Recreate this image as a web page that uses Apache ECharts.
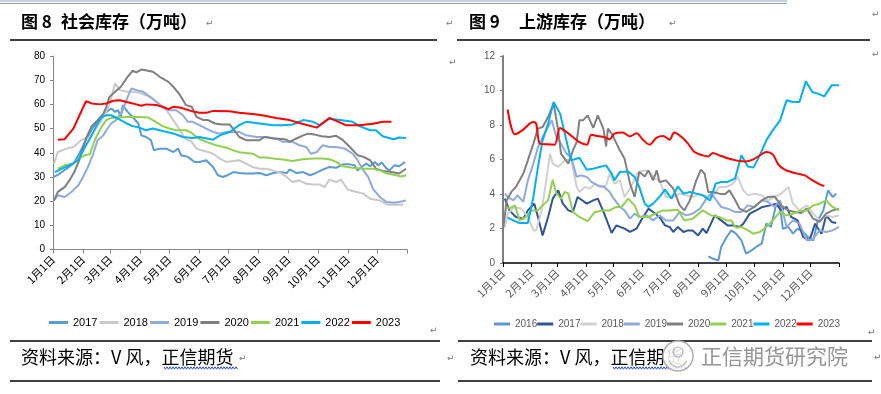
<!DOCTYPE html>
<html><head><meta charset="utf-8">
<script src="https://cdn.jsdelivr.net/npm/echarts@6/dist/echarts.min.js"></script>
<style>
html,body{margin:0;padding:0;background:#fff;}
.c{position:absolute;left:0;top:0;width:881px;height:394px;}
</style>
</head><body>
<div id="a" class="c"></div><div id="b" class="c"></div>
<script>
// ---- axis categories ----
const monthDays = [0,31,59,90,120,151,181,212,243,273,304,334];
const tickDays = [0,31,59,90,120,151,181,212,243,273,304,334,365];
const monthLabels = ['1月1日','2月1日','3月1日','4月1日','5月1日','6月1日','7月1日','8月1日','9月1日','10月1日','11月1日','12月1日'];

// ---- Figure 8: 社会库存 (万吨), [day of year, value] ----
const yearsL = ['2017','2018','2019','2020','2021','2022','2023'];
const L2017 = [[1,30],[7,31.4],[14,33.4],[21,35.5],[27,39.6],[34,45.2],[41,50.4],[48,54.1],[55,56.9],[60,58.3],[64,56.9],[67,57.6],[70,54.8],[72,59.7],[77,56.9],[82,54.8],[88,52.1],[91,47.2],[96,46.5],[101,45.2],[104,41],[110,41.7],[117,41.7],[124,40.3],[129,41.7],[132,39],[139,38.3],[146,36.2],[151,36.2],[158,36.9],[165,34.1],[170,30.7],[175,30],[180,30.7],[186,32],[192,31.6],[199,31.4],[206,31.4],[213,31.6],[220,30.7],[227,31.6],[234,32],[241,31.6],[244,33.1],[251,31.6],[258,32],[265,30.7],[272,31.8],[278,33],[285,34.1],[292,33.8],[299,35.2],[306,35.2],[311,34.8],[314,32.7],[318,34.1],[323,35.5],[327,34.4],[332,36.2],[335,34.8],[339,35.9],[344,33.4],[347,32.7],[352,34.8],[357,34.4],[363,36.2]];
const L2018 = [[1,35.5],[5,40.3],[14,41.7],[21,42.4],[29,45.2],[38,46.5],[45,50.4],[52,54.8],[58,59.7],[64,68.6],[69,65.9],[76,65.2],[82,65.2],[89,64.8],[96,63.8],[103,62.4],[110,59.7],[117,57.6],[124,53.5],[131,49.3],[136,45.9],[143,44.5],[148,41.7],[153,41],[160,40.3],[165,39.6],[172,37.6],[179,36.2],[186,36.6],[192,36.9],[199,35.5],[206,34.1],[213,33.4],[220,33.4],[227,32.7],[234,31.8],[241,30],[247,27.9],[254,28.6],[261,27.2],[268,26.9],[275,26.9],[280,25.8],[285,28.9],[292,27.9],[297,28.9],[304,24.7],[313,23.8],[320,23.1],[327,21],[337,20.3],[345,18.5],[354,18.6],[361,18.5]];
const L2019 = [[1,20.3],[5,22.4],[12,21.7],[19,23.8],[26,26.5],[31,30],[36,34.1],[41,39],[46,45.2],[52,47.2],[55,49.3],[60,52.1],[65,53.5],[72,57.6],[77,63.1],[81,66.6],[86,65.9],[93,65.2],[100,63.1],[107,61],[113,59],[120,57.6],[127,57.6],[134,55.5],[139,52.8],[144,52.8],[151,51.4],[158,50],[165,48.6],[172,47.9],[179,48.6],[186,48.6],[192,48.6],[199,47.2],[210,46.5],[220,46.5],[230,45.9],[237,44.5],[247,44.5],[254,43.1],[261,42.4],[266,39.6],[272,40.3],[278,43.1],[285,42.4],[292,42.4],[301,41.7],[309,39.6],[314,36.9],[320,32.7],[325,30],[330,25.1],[337,21.7],[344,19.6],[351,19.3],[357,19.6],[364,20.3]];
const L2020 = [[1,20.3],[5,23.8],[12,25.8],[17,28.6],[22,32],[27,36.9],[34,45.9],[40,51],[46,53.5],[52,56.2],[55,59],[58,63],[64,65.2],[70,67.3],[77,71.4],[82,73.9],[86,73.2],[91,74.4],[98,73.9],[103,73.5],[110,71.4],[119,69.3],[124,67.3],[131,63.8],[137,59.7],[143,59],[148,54.8],[155,53.5],[160,53.5],[167,52.1],[174,51.7],[182,51.7],[187,49.3],[192,46.5],[199,45.2],[206,45.2],[213,45.2],[218,46.5],[227,45.9],[237,45.7],[241,45.4],[244,44.5],[251,45.9],[258,47.2],[263,47.9],[270,47.5],[277,46.8],[285,46.5],[292,47],[299,45.2],[306,42.4],[314,39],[320,38.3],[327,36.9],[333,33.4],[340,32.5],[349,32],[357,31.4],[364,33.4]];
const L2021 = [[5,33.4],[12,34.8],[21,35.5],[27,37.6],[33,39],[38,39.4],[43,45.2],[50,50.7],[55,53.5],[60,54.4],[67,54.6],[76,54.8],[89,54.8],[98,54.6],[105,53],[113,51],[120,50],[127,49.3],[137,49.3],[143,48.2],[150,45.9],[158,44.5],[168,43.1],[179,42.1],[186,41],[192,40.2],[199,39.9],[206,39.6],[213,38],[220,38],[227,37.6],[237,37.2],[247,36.6],[258,37.3],[268,37.6],[278,37.6],[285,37.3],[292,36.2],[299,34.4],[309,33.8],[320,33.4],[330,33.4],[337,32.7],[344,31.4],[354,30.7],[359,30.2],[364,30.7]];
const L2022 = [[2,32],[9,33.4],[17,34.8],[26,36.9],[33,42.4],[40,47.2],[45,51.4],[50,54.6],[55,55.5],[60,55.5],[67,54.1],[76,52.1],[82,51],[89,50.4],[96,49.3],[103,50],[113,49],[124,48],[134,46.5],[144,46.1],[151,46.5],[165,45.4],[172,47.2],[182,48.6],[192,51.4],[199,52.8],[213,52.1],[227,51.4],[237,51.4],[247,51.7],[258,53.5],[268,52.8],[275,51.4],[285,54.1],[296,53.5],[309,52.8],[316,51],[327,49.3],[333,49.3],[340,46.8],[351,45.6],[357,46.3],[364,46.1]];
const L2023 = [[5,45.4],[12,45.6],[21,50],[34,61.3],[40,60.4],[48,60],[55,60.4],[62,61.5],[69,61.7],[76,61],[82,60.4],[91,59.4],[96,60],[107,59.7],[113,59],[119,58],[124,59],[132,58.6],[143,57.2],[151,56.5],[158,56.5],[165,57.3],[182,57.2],[192,56.5],[206,56],[217,55.4],[230,54.4],[244,53.5],[254,52.3],[272,50.4],[285,54.4],[302,51.4],[316,51.4],[330,52],[340,52.8],[349,52.8]];
const colorsL = ['#5B9BD5','#C9C9C9','#8FAADC','#7F7F7F','#92D050','#00B0F0','#FF0000'];

// ---- Figure 9: 上游库存 (万吨), [day of year, value] ----
const yearsR = ['2016','2017','2018','2019','2020','2021','2022','2023'];
const R2016 = [[223,0.39],[228,0.25],[234,0.15],[237,0.93],[243,1.51],[248,1.89],[253,1.7],[259,1.31],[264,0.54],[270,0.73],[275,0.93],[281,1.12],[286,2.28],[291,2.09],[297,3.44],[301,3.25],[304,1.99],[310,2.09],[315,1.7],[320,1.99],[326,1.8],[331,1.51],[337,1.31],[342,2.47],[348,3.05],[353,4.21],[358,3.83],[362,4.02]];
const R2017 = [[2,3.73],[7,3.05],[14,2.67],[22,2.57],[27,3.05],[34,3.44],[38,2.67],[43,1.6],[49,2.67],[54,3.73],[60,4.21],[65,3.44],[71,3.05],[76,2.96],[81,3.83],[91,3.44],[98,3.63],[103,3.73],[110,2.86],[118,1.74],[123,2.18],[132,1.99],[138,1.8],[145,1.99],[150,2.47],[158,3.15],[163,2.96],[170,2.67],[176,2.18],[181,2.09],[185,1.8],[190,2.09],[196,1.8],[201,1.89],[206,1.89],[212,1.6],[217,1.99],[221,1.74],[225,2.18],[230,2.76],[237,2.47],[244,2.18],[250,2.18],[257,2.09],[261,2.28],[268,2.86],[275,3.05],[282,3.25],[290,3.34],[297,3.44],[302,3.05],[308,3.25],[313,2.67],[320,2.47],[326,1.51],[333,1.31],[339,2.28],[346,1.7],[351,2.76],[357,2.38],[362,2.32]];
const R2018 = [[2,2.09],[5,2.86],[13,3.25],[20,3.15],[27,2.67],[33,1.89],[36,1.89],[42,3.05],[47,4.79],[51,6.34],[54,5.76],[60,5.57],[67,5.95],[74,6.05],[80,4.41],[83,4.12],[89,4.41],[94,4.31],[100,4.6],[105,4.41],[112,4.5],[116,5.18],[121,4.6],[127,4.79],[132,3.83],[139,4.41],[147,5.28],[154,5.37],[159,5.28],[165,4.89],[170,4.79],[177,3.83],[185,3.83],[192,4.02],[199,3.92],[206,3.83],[214,4.02],[221,3.86],[228,3.83],[235,4.41],[243,4.41],[250,4.6],[255,4.99],[261,4.21],[266,3.92],[273,4.02],[281,3.92],[288,3.63],[295,3.83],[302,4.02],[310,4.41],[315,3.44],[322,3.05],[330,3.34],[337,2.86],[344,2.47],[351,2.76],[358,2.67],[365,2.76]];
const R2019 = [[2,4.02],[5,3.83],[11,3.63],[16,3.92],[22,3.54],[27,4.79],[33,5.76],[38,6.72],[43,7.3],[49,7.88],[53,8.27],[58,7.3],[63,6.92],[69,6.34],[74,6.14],[80,4.99],[85,5.08],[91,4.99],[96,4.7],[103,4.5],[110,4.41],[116,4.12],[119,3.83],[127,3.25],[132,3.05],[138,2.57],[143,2.86],[148,2.67],[156,2.76],[163,2.47],[170,2.76],[177,2.47],[185,2.47],[192,2.96],[199,2.76],[206,2.86],[214,3.15],[221,3.73],[226,4.02],[232,3.63],[237,3.25],[244,3.15],[252,2.96],[259,2.96],[266,3.34],[273,3.25],[281,3.63],[288,3.54],[295,3.25],[301,3.63],[308,2.09],[315,2.47],[322,2.28],[330,1.31],[337,1.41],[344,1.89],[351,1.8],[358,1.89],[365,2.09]];
const R2020 = [[0,1.89],[4,3.63],[9,4.12],[14,4.41],[22,5.18],[27,5.95],[33,6.92],[38,7.79],[43,7.88],[49,8.46],[55,9.24],[60,7.69],[63,6.34],[71,5.76],[76,6.53],[80,7.01],[83,8.27],[87,8.27],[92,8.56],[98,7.83],[103,8.56],[109,7.79],[112,6.76],[114,7.79],[118,7.5],[127,6.53],[132,6.05],[138,4.6],[143,3.83],[148,5.28],[154,5.02],[158,5.37],[163,4.79],[167,5.37],[170,4.7],[177,4.79],[185,4.31],[192,3.34],[197,3.05],[203,3.63],[210,4.79],[215,5.41],[219,5.18],[223,4.12],[228,4.12],[235,4.02],[241,3.98],[246,4.21],[252,3.67],[257,3.15],[264,2.96],[273,3.25],[281,3.63],[288,3.83],[295,3.86],[302,3.34],[310,3.05],[317,2.96],[324,2.9],[330,3.15],[337,2.57],[344,2.38],[351,2.86],[358,3.05],[365,3.15]];
const R2021 = [[4,3.25],[7,3.15],[13,3.34],[18,2.47],[25,2.67],[31,3.05],[38,3.05],[43,3.34],[49,3.63],[54,4.83],[58,4.02],[63,3.73],[67,4.12],[71,4.02],[76,2.96],[83,2.67],[92,2.43],[100,2.96],[109,3.05],[116,3.05],[123,3.25],[129,3.25],[136,3.73],[143,3.34],[148,2.67],[158,2.67],[167,2.9],[174,3.05],[181,3.05],[190,3.09],[197,2.47],[206,2.57],[217,3.05],[226,2.76],[235,2.67],[243,2.47],[248,2.47],[253,2.05],[259,2.09],[266,1.89],[272,1.7],[279,1.8],[286,2.09],[293,2.47],[301,2.96],[308,2.76],[315,2.86],[322,3.01],[330,3.05],[337,3.34],[344,3.44],[351,3.63],[358,3.25],[365,3.05]];
const R2022 = [[5,2.63],[13,2.43],[18,2.32],[27,2.32],[33,3.83],[38,5.57],[43,7.11],[49,8.08],[55,9.33],[62,8.66],[68,7.3],[74,5.95],[83,6.1],[91,5.41],[98,5.47],[105,5.57],[112,5.66],[118,5.18],[121,4.79],[127,5.28],[136,5.31],[143,4.99],[148,4.41],[154,3.44],[158,3.25],[163,3.44],[170,3.83],[176,4.25],[183,3.73],[190,4.44],[196,4.02],[203,4.12],[210,4.02],[217,3.92],[225,3.63],[231,4.6],[237,4.7],[244,4.7],[252,4.89],[259,6.24],[266,5.6],[272,5.53],[279,6.24],[286,7.11],[293,7.69],[301,8.27],[308,9.43],[315,9.33],[322,9.33],[329,10.53],[336,9.91],[342,9.82],[349,9.66],[357,10.3],[365,10.3]];
const R2023 = [[5,8.9],[13,7.46],[22,7.73],[29,8.08],[33,8.17],[36,8.08],[40,6.92],[47,6.88],[56,6.86],[62,7.83],[69,7.59],[76,7.3],[83,7.01],[91,6.86],[96,7.44],[103,7.36],[110,7.3],[116,7.17],[121,7.5],[130,7.56],[138,7.34],[145,7.52],[152,7.15],[159,6.86],[167,7.27],[174,7.36],[181,7.15],[186,7.56],[194,7.3],[201,6.92],[208,6.43],[217,6.24],[223,6.18],[228,6.38],[235,6.24],[243,6.09],[250,5.99],[257,5.91],[264,5.89],[272,6.01],[279,6.24],[286,6.43],[293,6.3],[299,5.72],[306,5.41],[313,5.28],[320,5.18],[328,5.08],[335,4.83],[344,4.56],[349,4.46]];
const colorsR = ['#5B9BD5','#2F5597','#D0D0D0','#8FAADC','#808080','#92D050','#00B0F0','#FF0000'];

const FONT = '"Liberation Sans", Arial, "Noto Sans CJK SC", sans-serif';
const CJK = '"Noto Sans CJK SC", "Liberation Sans", sans-serif';
const labelFor = v => monthLabels[monthDays.indexOf(Math.round(v))] || '';

function xAxis(labelColor, lineColor, lineW) {
  return {
    type:'value', min:0, max:365, splitLine:{show:false},
    axisLine:{show:true, lineStyle:{color:lineColor, width:lineW}},
    axisTick:{show:true, customValues:tickDays, length:4, lineStyle:{color:lineColor, width:1}},
    axisLabel:{customValues:monthDays, formatter:labelFor, rotate:45, margin:8,
      fontSize:11, color:labelColor, fontFamily:CJK}
  };
}
function yAxis(max, interval, labelColor, lineColor, lineW) {
  return {
    type:'value', min:0, max:max, interval:interval, splitLine:{show:false},
    axisLine:{show:true, lineStyle:{color:lineColor, width:lineW}},
    axisTick:{show:true, length:3, lineStyle:{color:lineColor}},
    axisLabel:{fontSize:10, color:labelColor, margin:8, fontFamily:FONT}
  };
}
function mkSeries(names, datas, colors, smoothLast) {
  return names.map((n,i)=>({
    name:n, type:'line', data:datas[i], showSymbol:false, symbol:'none',
    smooth: (smoothLast && i===names.length-1) ? 0.3 : false,
    lineStyle:{width:2, color:colors[i]}, itemStyle:{color:colors[i]},
    animation:false, z: 2+i
  }));
}
function txt(x,y,s,size,opts){
  return Object.assign({type:'text', x:x, y:y, style:Object.assign({text:s, fontSize:size, fontFamily:CJK, fill:'#000', textVerticalAlign:'middle'}, opts||{})});
}
function hline(x1,x2,y,color,w){
  return {type:'line', shape:{x1:x1,y1:y,x2:x2,y2:y}, style:{stroke:color, lineWidth:w}};
}
function wavy(x1,x2,y){
  const pts=[]; let k=0;
  for(let x=x1;x<=x2;x+=1.5){pts.push([x, y + (k%2?1.2:-1.2)]); k++;}
  return {type:'polyline', shape:{points:pts}, style:{stroke:'#2E4BD8', lineWidth:1, fill:null}};
}
const ret = (x,y) => txt(x,y,'↵',9,{fill:'#777', fontFamily:'DejaVu Sans'});

// ---- Chart A : left panel + page decorations ----
const chA = echarts.init(document.getElementById('a'), null, {renderer:'canvas'});
chA.setOption({
  animation:false,
  grid:{left:53, top:56, width:354, height:193.5},
  xAxis: xAxis('#000', '#868686', 1),
  yAxis: yAxis(80, 10, '#000', '#868686', 1),
  legend:{data:yearsL, left:44, top:312, icon:'rect', itemWidth:19, itemHeight:3, itemGap:2,
    textStyle:{fontSize:11, color:'#000', fontFamily:FONT}},
  series: mkSeries(yearsL, [L2017,L2018,L2019,L2020,L2021,L2022,L2023], colorsL, false),
  graphic:[
    hline(0,787,1,'#8EA0BA',1.2), hline(0,787,3.5,'#8EA0BA',1.2),
    txt(21,22,'图 8',17,{fontWeight:'bold'}),
    txt(61,22,'社会库存（万吨）',17,{fontWeight:'bold'}),
    ret(206,24),
    hline(10,437,40,'#000',1.5),
    txt(469,22,'图 9',17,{fontWeight:'bold'}),
    txt(519,22,'上游库存（万吨）',17,{fontWeight:'bold'}),
    ret(446,24), ret(669,24), ret(872,15), ret(872,55), ret(449,63),
    hline(457,870,40,'#000',1.5),
    ret(430,331), ret(868,333),
    hline(10,440,341,'#000',1.5), hline(458,872,341,'#000',1.5),
    txt(21,357,'资料来源：V 风，正信期货',18),
    wavy(164,238,368), ret(239,359),
    txt(470,357,'资料来源：V 风，正信期货',18),
    wavy(613,687,368), ret(447,359),
    hline(10,440,381,'#000',1.5), hline(458,872,381,'#000',1.5)
  ]
});

// ---- Chart B : right panel + watermark ----
const chB = echarts.init(document.getElementById('b'), null, {renderer:'canvas'});
chB.setOption({
  animation:false,
  grid:{left:503, top:56, width:336, height:207},
  xAxis: xAxis('#595959', '#000', 1.5),
  yAxis: yAxis(12, 2, '#595959', '#7F7F7F', 2),
  legend:{data:yearsR, left:489, top:314, icon:'rect', itemWidth:16, itemHeight:3, itemGap:0,
    textStyle:{fontSize:10, color:'#595959', fontFamily:FONT}},
  series: mkSeries(yearsR, [R2016,R2017,R2018,R2019,R2020,R2021,R2022,R2023], colorsR, true),
  graphic:[
    {type:'circle', shape:{cx:678, cy:356, r:15}, style:{fill:'rgba(255,255,255,0.88)', stroke:'#B0B0B0', lineWidth:1.5}},
    {type:'circle', shape:{cx:678, cy:352, r:5}, style:{fill:null, stroke:'#B5B5B5', lineWidth:1.2}},
    {type:'arc', shape:{cx:678, cy:358, r:9, startAngle:0.3, endAngle:Math.PI-0.3}, style:{fill:null, stroke:'#B5B5B5', lineWidth:1.2}},
    txt(701,356,'正信期货研究院',21,{fill:'rgba(130,130,130,0.85)'}),
    ret(874,358)
  ]
});
</script>
</body></html>
